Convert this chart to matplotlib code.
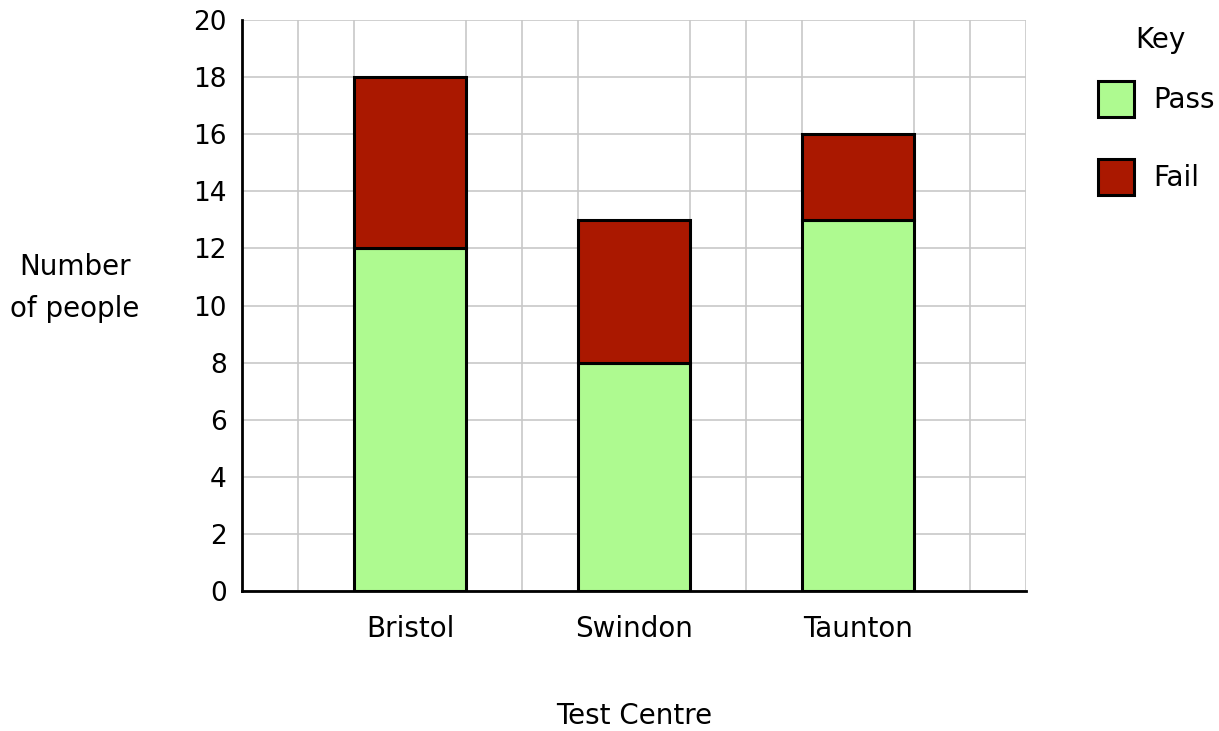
import numpy as np
import matplotlib.pyplot as plt
from matplotlib.patches import Rectangle

centres = ['Bristol', 'Swindon', 'Taunton']
passed = [12, 8, 13]
failed = [6, 5, 3]
yticks = list(range(0, 21, 2))
key_labels = ['Pass', 'Fail']

plt.rcParams['font.family'] = ['DejaVu Sans']
plt.rcParams['font.size'] = 19

W, H = 1219, 731
fig = plt.figure(figsize=(W/100, H/100), dpi=100)
ax = fig.add_axes([242/W, 1 - 591/H, (1026 - 242)/W, (591 - 20)/H])

pos = np.array([3, 7, 11])
pass_col = '#aefa90'
fail_col = '#aa1800'
ax.bar(pos, passed, width=2, color=pass_col, edgecolor='black', linewidth=2.2, zorder=3)
ax.bar(pos, failed, width=2, bottom=passed, color=fail_col, edgecolor='black', linewidth=2.2, zorder=3)

ax.set_xlim(0, 14)
ax.set_ylim(0, 20)
ax.set_xticks(np.arange(0, 15, 1), minor=True)
ax.set_xticks(pos)
ax.set_xticklabels(centres, fontsize=20)
ax.set_yticks(yticks)
ax.grid(True, which='both', color='#c8c8c8', linewidth=1.2, zorder=0)
ax.grid(False, axis='x', which='major')
ax.tick_params(which='both', length=0)
ax.tick_params(axis='y', pad=11)
ax.tick_params(axis='x', pad=17)
for s in ['top', 'right']:
    ax.spines[s].set_visible(False)
for s in ['left', 'bottom']:
    ax.spines[s].set_linewidth(2)
    ax.spines[s].set_zorder(4)

ax.set_xlabel('Test Centre', fontsize=20, labelpad=43)
fig.text(75/W, 1 - 288/H, 'Number\nof people', ha='center', va='center', fontsize=20, linespacing=1.6)

# key
fig.text(1160/W, 1 - 40/H, 'Key', ha='center', va='center', fontsize=20)
for i, (lab, col) in enumerate(zip(key_labels, [pass_col, fail_col])):
    y0 = 81 + 78 * i
    fig.add_artist(Rectangle((1098/W, 1 - (y0 + 36)/H), 36/W, 36/H, transform=fig.transFigure,
                             facecolor=col, edgecolor='black', linewidth=2.2))
    fig.text(1153/W, 1 - (y0 + 19)/H, lab, ha='left', va='center', fontsize=20)

fig.savefig('out.png', dpi=100)
